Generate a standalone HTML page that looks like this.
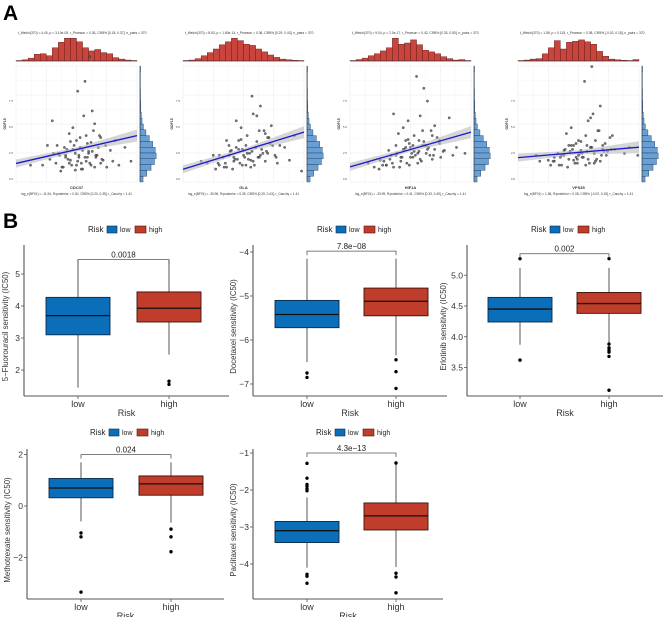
<!DOCTYPE html>
<html><head><meta charset="utf-8">
<style>
html,body{margin:0;padding:0;background:#fff;}
svg{display:block;font-family:"Liberation Sans",Arial,sans-serif;}
</style></head>
<body>
<svg id="fig" width="669" height="617" viewBox="0 0 669 617" xmlns="http://www.w3.org/2000/svg">
<text x="3" y="20" font-size="21" font-weight="bold" fill="#000">A</text>
<text x="3" y="228" font-size="21" font-weight="bold" fill="#000">B</text>
<g id="pa"></g>
<g id="pb"></g>
</svg>
<script>
// ---------- Panel A data ----------
const genes = ["CDC37","GLA","HIF1A","VPS35"];
const slopeLeft = [0.16, 0.11, 0.13, 0.21];
const slopeRight = [0.40, 0.43, 0.43, 0.30];
const histTop = [
 [0.02,0.05,0.12,0.28,0.30,0.22,0.55,0.78,0.95,0.95,0.80,0.55,0.42,0.48,0.35,0.30,0.14,0.08,0.04,0.02],
 [0.02,0.04,0.10,0.22,0.35,0.50,0.68,0.80,0.95,0.85,0.70,0.65,0.50,0.38,0.25,0.15,0.08,0.05,0.03,0.02],
 [0.02,0.06,0.12,0.22,0.30,0.42,0.55,0.95,0.70,0.75,0.88,0.68,0.45,0.38,0.30,0.18,0.10,0.04,0.06,0.02],
 [0.02,0.04,0.08,0.10,0.30,0.55,0.85,0.50,0.78,0.82,0.88,0.80,0.70,0.40,0.20,0.08,0.05,0.03,0.02,0.06]
];
const histRight = [0.03,0.02,0.02,0.02,0.03,0.03,0.04,0.05,0.08,0.12,0.20,0.35,0.55,0.75,0.90,0.95,0.85,0.65,0.40,0.18];
const scatX = [
 [22,35,40,45,48,50,52,55,58,60,62,64,66,68,70,72,38,44,30,56,74,78,82,65,54,47,41,59,63,69,51,85,90,95,26,12,57,61,49,53,
  33,36,39,42,43,46,49,51,53,55,57,59,61,63,65,67,71,34,37,41,44,47,50,52,54,58,60,62,66,70,28,31,75,80,45],
 [20,30,38,42,46,50,53,56,60,63,66,70,73,76,80,34,44,58,62,68,52,48,40,72,84,88,92,25,55,64,36,78,57,61,45,49,67,71,15,98,
  30,33,36,39,42,44,47,50,52,54,57,59,61,63,65,68,70,35,38,41,43,46,49,51,53,56,58,60,64,69,27,29,74,77,48],
 [15,25,32,38,42,46,50,53,56,60,63,66,70,74,78,30,40,48,58,64,52,44,36,72,82,88,95,28,55,62,34,68,57,61,45,49,67,75,20,85,
  30,33,36,39,42,44,47,50,52,54,57,59,61,63,65,68,70,35,38,41,43,46,49,51,53,56,58,60,64,69,24,27,74,77,48],
 [15,30,38,42,46,50,53,56,60,63,66,70,73,76,80,34,44,58,62,68,52,48,40,72,60,88,92,25,55,64,36,78,57,61,45,49,67,71,18,99,
  30,33,36,39,42,44,47,50,52,54,57,59,61,63,65,68,70,35,38,41,43,46,49,51,53,56,58,60,64,69,27,29,74,77,48]
];
const scatY = [
 [10,22,28,15,30,35,18,25,40,22,33,45,20,28,38,15,8,42,55,60,30,25,35,52,12,48,20,18,65,40,85,10,28,14,30,10,95,120,5,38,
  12,20,8,26,16,10,22,14,28,6,18,32,12,24,8,20,16,30,4,18,12,26,10,20,6,14,24,10,18,12,16,22,8,14,34],
 [12,20,30,18,35,25,40,15,28,45,22,38,50,20,30,8,55,62,18,42,10,48,25,32,28,15,40,20,22,70,35,12,80,60,16,26,45,38,14,4,
  10,18,8,24,14,28,12,20,30,16,24,10,34,18,26,14,22,12,20,6,16,26,10,18,22,8,14,28,20,24,6,12,30,18,36],
 [12,15,25,30,18,35,28,40,22,45,30,20,50,35,25,10,42,55,60,75,18,48,62,38,58,28,22,14,100,30,20,40,35,88,26,32,45,18,8,20,
  10,16,8,22,14,26,12,18,30,20,24,14,34,22,28,16,26,12,20,8,18,28,10,22,24,12,16,30,26,20,6,10,32,24,36],
 [20,18,25,30,15,35,22,40,28,12,45,30,20,38,26,10,48,55,62,70,25,18,42,32,58,22,28,15,95,35,20,40,30,110,26,16,45,24,14,20,
  14,22,10,26,16,30,12,20,34,18,24,12,28,22,16,14,26,18,20,8,24,30,12,22,18,10,16,28,14,20,10,14,24,26,32]
];
const captions = ["t_Welch(370) = 4.40, p = 3.10e-05, r_Pearson = 0.26, CI95% [0.18, 0.37], n_pairs = 370",
 "t_Welch(370) = 8.63, p = 1.60e-14, r_Pearson = 0.36, CI95% [0.29, 0.43], n_pairs = 370",
 "t_Welch(370) = 9.04, p = 2.0e-17, r_Pearson = 0.42, CI95% [0.33, 0.50], n_pairs = 370",
 "t_Welch(370) = 1.58, p = 0.115, r_Pearson = 0.08, CI95% [-0.02, 0.18], n_pairs = 370"];
const bottomCaps = ["log_e(BF01) = -11.94, R²posterior = 0.30, CI95% [0.20, 0.35], r_Cauchy = 1.41",
 "log_e(BF01) = -30.96, R²posterior = 0.35, CI95% [0.29, 0.43], r_Cauchy = 1.41",
 "log_e(BF01) = -33.99, R²posterior = 0.41, CI95% [0.33, 0.49], r_Cauchy = 1.41",
 "log_e(BF01) = 1.56, R²posterior = 0.08, CI95% [-0.02, 0.18], r_Cauchy = 1.41"];

// ---------- Panel B data ----------
const drugs = ["5−Fluorouracil","Docetaxel","Erlotinib","Methotrexate","Paclitaxel"];
const pvals = ["0.0018","7.8e−08","0.002","0.024","4.3e−13"];
const tickVals = [[2,3,4,5],[-7,-6,-5,-4],[3.5,4.0,4.5,5.0],[-2,0,2],[-4,-3,-2,-1]];
const tickLabels = [["2","3","4","5"],["−7","−6","−5","−4"],["3.5","4.0","4.5","5.0"],["−2","0","2"],["−4","−3","−2","−1"]];
const lowStats = [[1.45,3.1,3.7,4.27,5.45],[-6.5,-5.72,-5.42,-5.1,-4.15],[3.87,4.24,4.45,4.64,5.12],[-0.6,0.32,0.7,1.07,1.7],[-4.1,-3.42,-3.1,-2.85,-2.2]];
const highStats = [[2.48,3.5,3.93,4.44,5.45],[-6.35,-5.45,-5.12,-4.82,-4.15],[3.9,4.38,4.54,4.72,5.12],[-0.65,0.42,0.86,1.17,1.7],[-4.08,-3.08,-2.7,-2.35,-1.28]];
const lowOut = [[],[-6.75,-6.85],[5.27,3.62],[-1.05,-1.2,-3.35],[-1.28,-1.68,-1.85,-1.9,-1.97,-2.02,-4.28,-4.33,-4.52]];
const highOut = [[1.65,1.55],[-6.45,-6.72,-7.1],[5.27,3.88,3.82,3.78,3.75,3.68,3.13],[-0.9,-1.2,-1.78],[-1.27,-4.25,-4.35,-4.78]];
const bracketVal = [5.45,-3.98,5.35,2.0,-1.0];

const NS="http://www.w3.org/2000/svg";
function mk(parent,tag,attrs,text){const e=document.createElementNS(NS,tag);for(const k in attrs)e.setAttribute(k,attrs[k]);if(text!==undefined)e.textContent=text;parent.appendChild(e);return e;}

// ---------- draw Panel A ----------
const pa=document.getElementById('pa');
const panelLefts=[16,183,350,518], PW=121, PT=66, PB=182, HT=37, HB=61;
genes.forEach((g,i)=>{
  const L=panelLefts[i], R=L+PW;
  const grp=mk(pa,'g',{});
  
  
  const sx=v=>L+v/100*PW, sy=v=>PB-v/100*(PB-PT);
  const t=mk(grp,'text',{x:L+2,y:34,'font-size':3.3,fill:'#333'},captions[i]);
  
  
  for(let k=0;k<=8;k++){const x=L+k*PW/8;mk(grp,'line',{x1:x,x2:x,y1:PT,y2:PB,stroke:k%2?'#f4f4f4':'#e8e8e8','stroke-width':0.5});}
  for(let k=0;k<=8;k++){const y=PT+k*(PB-PT)/8;mk(grp,'line',{x1:L,x2:R,y1:y,y2:y,stroke:k%2?'#f4f4f4':'#e8e8e8','stroke-width':0.5});}
  const bw=PW/histTop[i].length;
  histTop[i].forEach((h,k)=>{const b=mk(grp,'rect',{x:L+k*bw,y:HB-h*(HB-HT),width:bw,height:h*(HB-HT),fill:'#c8443c',stroke:'#5a1a16','stroke-width':0.4});
    
    });
  mk(grp,'line',{x1:L,x2:R,y1:HB,y2:HB,stroke:'#333','stroke-width':0.5});
  const bh=(PB-PT)/histRight.length, HL=R+3, HWmax=17;
  histRight.forEach((h,k)=>{const b=mk(grp,'rect',{x:HL,y:PT+k*bh,width:h*HWmax,height:bh,fill:'#6a9fd4',stroke:'#1d3d60','stroke-width':0.4});
    
    });
  mk(grp,'line',{x1:HL,x2:HL,y1:PT,y2:PB,stroke:'#333','stroke-width':0.5});
  scatX[i].forEach((x,k)=>{const p=mk(grp,'circle',{cx:sx(x),cy:sy(scatY[i][k]*0.85+6),r:1.2,fill:'#555',stroke:'#222','stroke-width':0.3,'fill-opacity':0.8});
    
    });
  const yl=sy(slopeLeft[i]*100), yr=sy(slopeRight[i]*100);
  mk(grp,'polygon',{points:`${L},${yl-4} ${(L+R)/2},${(yl+yr)/2-2} ${R},${yr-6} ${R},${yr+6} ${(L+R)/2},${(yl+yr)/2+2} ${L},${yl+4}`,fill:'#bbb','fill-opacity':0.6});
  const ln=mk(grp,'line',{x1:L,y1:yl,x2:R,y2:yr,stroke:'#1a1acc','stroke-width':1.3});
  
  
  ['0.0','2.5','5.0','7.5'].forEach((s,k)=>mk(grp,'text',{x:L-3,y:PB-2-k*26,'font-size':3,fill:'#555','text-anchor':'end'},s));
  mk(grp,'text',{x:L-10,y:(PT+PB)/2,'font-size':3.5,'font-weight':'bold',fill:'#333',transform:`rotate(-90 ${L-10} ${(PT+PB)/2})`,'text-anchor':'middle'},'GDF15');
  const xl=mk(grp,'text',{x:(L+R)/2,y:189,'font-size':4,'font-weight':'bold',fill:'#333','text-anchor':'middle'},g);
  
  
  mk(grp,'text',{x:(L+R)/2,y:195,'font-size':3.2,fill:'#333','text-anchor':'middle'},bottomCaps[i]);
});

// ---------- draw Panel B ----------
const pb=document.getElementById('pb');
const cfg=[
 {ax:24,xe:229,yb:396,yt:245,v0:4,p0:306,k:32,c:[78,169],ly:229,lx:88,tx:16},
 {ax:253,xe:447,yb:396,yt:245,v0:-5,p0:296,k:44,c:[307,396],ly:229,lx:317,tx:17},
 {ax:467,xe:663,yb:396,yt:245,v0:4.5,p0:306,k:61.5,c:[520,609],ly:229,lx:531,tx:21},
 {ax:27,xe:224,yb:599,yt:449,v0:0,p0:506,k:25.7,c:[81,171],ly:432,lx:90,tx:17},
 {ax:253,xe:443,yb:599,yt:449,v0:-3,p0:527,k:37,c:[307,396],ly:432,lx:316,tx:17}
];
drugs.forEach((d,i)=>{
  const c=cfg[i]; const Y=v=>c.p0-(v-c.v0)*c.k;
  const grp=mk(pb,'g',{});
  
  
  const lg=mk(grp,'g',{});
  
  
  mk(lg,'text',{x:c.lx,y:c.ly+3,'font-size':8,fill:'#222'},'Risk');
  mk(lg,'rect',{x:c.lx+19,y:c.ly-3,width:10,height:7,fill:'#0a6fb8',stroke:'#0b2b4a','stroke-width':0.6});
  mk(lg,'text',{x:c.lx+32,y:c.ly+3,'font-size':7,fill:'#222'},'low');
  mk(lg,'rect',{x:c.lx+47,y:c.ly-3,width:11,height:7,fill:'#c03d2b',stroke:'#4a1610','stroke-width':0.6});
  mk(lg,'text',{x:c.lx+61,y:c.ly+3,'font-size':7,fill:'#222'},'high');
  mk(grp,'line',{x1:c.ax,x2:c.ax,y1:c.yt,y2:c.yb,stroke:'#555','stroke-width':1.1});
  mk(grp,'line',{x1:c.ax,x2:c.xe,y1:c.yb,y2:c.yb,stroke:'#555','stroke-width':1.1});
  tickVals[i].forEach((v,k)=>{const y=Y(v);
    mk(grp,'line',{x1:c.ax-3,x2:c.ax,y1:y,y2:y,stroke:'#555','stroke-width':0.8});
    const t=mk(grp,'text',{x:c.ax-4,y:y+3,'font-size':8.5,fill:'#333','text-anchor':'end'},tickLabels[i][k]);
    
    });
  ['low','high'].forEach((s,k)=>{
    mk(grp,'line',{x1:c.c[k],x2:c.c[k],y1:c.yb,y2:c.yb+3,stroke:'#555','stroke-width':0.8});
    const t=mk(grp,'text',{x:c.c[k],y:c.yb+11,'font-size':9,fill:'#333','text-anchor':'middle'},s);
    
    });
  const xt=mk(grp,'text',{x:(c.ax+c.xe)/2,y:c.yb+20,'font-size':9,fill:'#333','text-anchor':'middle'},'Risk');
  
  
  const ym=(c.yt+c.yb)/2+6, yx=c.ax-c.tx;
  const yt=mk(grp,'text',{x:yx,y:ym,'font-size':7.8,fill:'#333','text-anchor':'middle',transform:`rotate(-90 ${yx} ${ym})`},d+' sensitivity (IC50)');
  
  
  [[lowStats[i],lowOut[i],'#0a6fb8','#0b2b4a','low'],[highStats[i],highOut[i],'#c03d2b','#3a120c','high']].forEach(([s,o,fill,str,nm],k)=>{
    const cx=c.c[k], hw=32;
    mk(grp,'line',{x1:cx,x2:cx,y1:Y(s[0]),y2:Y(s[4]),stroke:'#666','stroke-width':1.1});
    const b=mk(grp,'rect',{x:cx-hw,y:Y(s[3]),width:2*hw,height:Y(s[1])-Y(s[3]),fill:fill,stroke:str,'stroke-width':0.9});
    
    
    mk(grp,'line',{x1:cx-hw,x2:cx+hw,y1:Y(s[2]),y2:Y(s[2]),stroke:'#111','stroke-width':1.3});
    o.forEach(v=>{const p=mk(grp,'circle',{cx:cx,cy:Y(v),r:1.7,fill:'#000'});
      
      });
  });
  const by=Y(bracketVal[i]);
  mk(grp,'path',{d:`M${c.c[0]},${by+4} V${by} H${c.c[1]} V${by+4}`,fill:'none',stroke:'#555','stroke-width':0.8});
  const pt=mk(grp,'text',{x:(c.c[0]+c.c[1])/2,y:by-2,'font-size':8,fill:'#222','text-anchor':'middle'},pvals[i]);
  
  
});
</script>
</body></html>
